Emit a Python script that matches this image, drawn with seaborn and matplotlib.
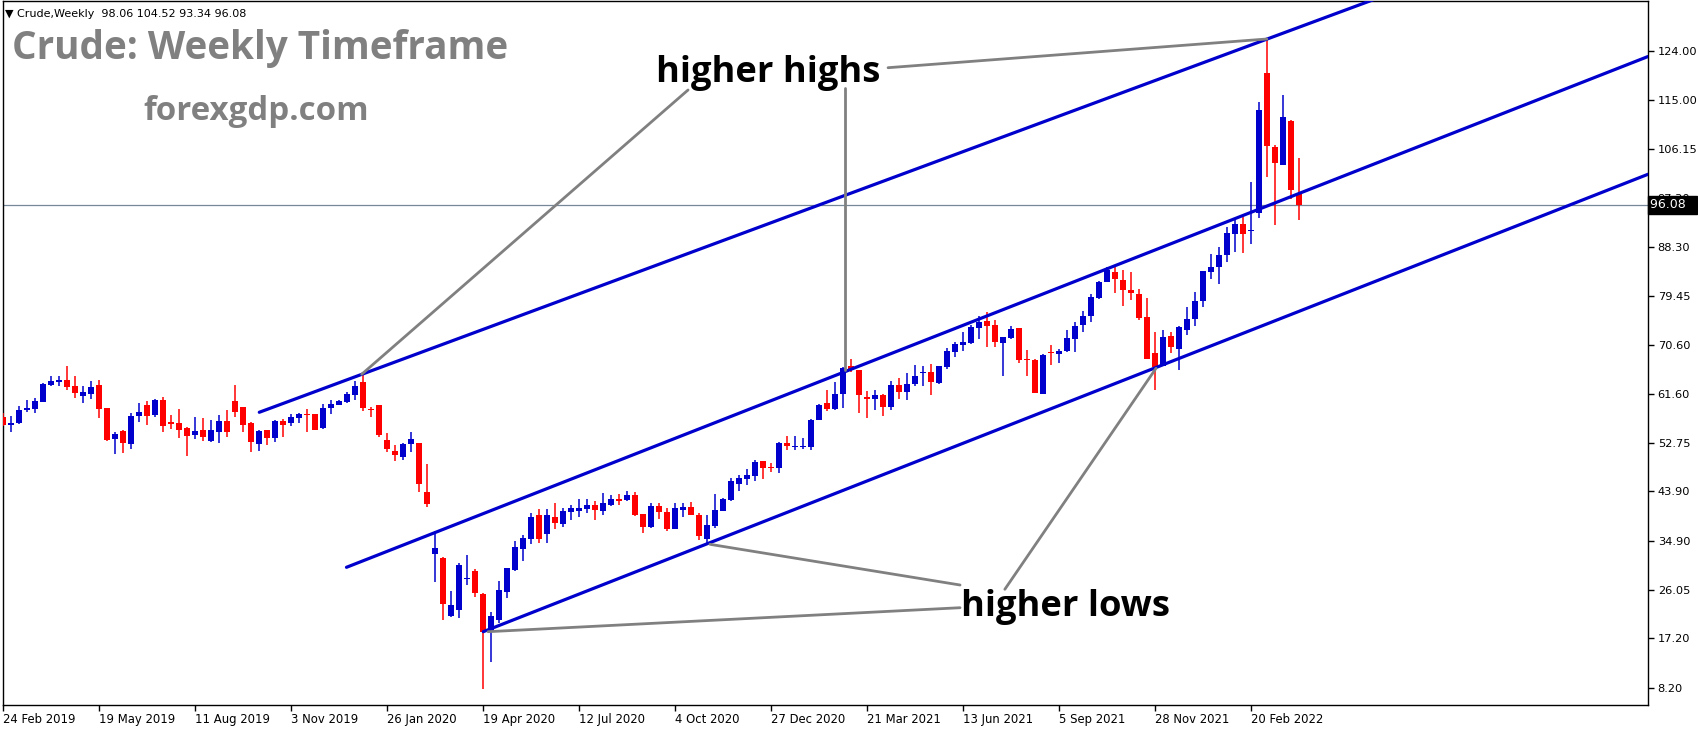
import numpy as np
import pandas as pd
import matplotlib
matplotlib.use("Agg")
import matplotlib.pyplot as plt
import matplotlib.transforms as mtransforms
import seaborn as sns

#-- weekly candles, Crude, 24 Feb 2019 .. 3 Apr 2022 (one row per week) --
opens = [57.38, 56.05, 56.41, 58.72, 58.96, 60.23, 63.26, 63.81, 64.17, 63.08,
         61.32, 61.69, 63.26, 59.08, 53.38, 54.90, 52.60, 57.63, 59.56, 57.87,
         60.53, 56.53, 56.35, 55.44, 54.23, 55.08, 53.14, 54.78, 56.72, 60.35,
         59.26, 56.35, 52.60, 55.08, 53.69, 56.72, 56.41, 57.32, 57.93, 57.99,
         55.50, 59.08, 59.69, 60.23, 61.50, 63.81, 58.90, 59.63, 53.26, 51.26,
         50.23, 52.60, 52.72, 43.81, 32.59, 31.87, 21.32, 22.41, 28.00, 29.44,
         25.26, 18.29, 20.59, 25.56, 29.62, 33.50, 35.32, 39.62, 36.23, 39.32,
         37.99, 40.23, 40.41, 40.78, 41.44, 40.41, 41.44, 42.59, 42.41, 43.26,
         39.81, 37.50, 41.26, 40.17, 37.14, 40.59, 41.08, 39.69, 35.32, 37.69,
         40.41, 42.35, 45.32, 46.23, 46.78, 49.44, 48.29, 48.23, 52.72, 51.99,
         51.99, 52.05, 56.96, 59.99, 58.90, 61.69, 66.72, 65.99, 61.02, 60.78,
         61.44, 59.32, 63.26, 62.05, 63.45, 65.45, 65.57, 63.57, 66.54, 69.33,
         70.60, 70.90, 73.69, 74.90, 74.18, 70.90, 71.87, 73.63, 67.87, 67.87,
         61.69, 69.21, 68.96, 69.45, 71.69, 74.24, 75.81, 79.08, 82.06, 83.81,
         82.36, 80.54, 79.81, 75.63, 69.10, 66.70, 72.18, 69.85, 73.27, 75.33,
         78.58, 83.88, 84.76, 86.97, 90.79, 92.55, 91.22, 94.61, 120.06, 106.55,
         103.34, 111.28, 98.06]
highs = [58.11, 57.63, 59.44, 60.53, 60.90, 63.60, 64.90, 64.90, 66.72, 64.90,
         63.08, 63.93, 64.17, 59.08, 54.72, 55.08, 58.17, 59.99, 60.35, 60.78,
         61.02, 57.81, 58.90, 55.57, 57.44, 57.26, 56.90, 57.81, 58.72, 63.32,
         59.26, 56.47, 55.08, 55.08, 56.90, 57.08, 57.93, 58.17, 58.84, 57.99,
         59.81, 60.53, 60.53, 61.99, 63.99, 65.20, 59.26, 59.63, 54.53, 52.35,
         52.78, 54.72, 52.72, 48.90, 36.78, 32.05, 25.87, 30.96, 32.41, 29.81,
         25.38, 22.05, 27.62, 29.99, 34.90, 35.99, 40.05, 40.72, 40.72, 41.81,
         40.90, 41.44, 42.53, 42.53, 42.17, 43.62, 43.26, 43.44, 43.99, 43.87,
         39.81, 41.81, 41.81, 40.90, 41.81, 41.81, 41.99, 39.99, 39.62, 43.44,
         42.72, 46.35, 46.90, 48.05, 49.62, 49.44, 49.08, 52.96, 53.99, 54.05,
         53.62, 57.08, 59.81, 62.35, 63.87, 66.60, 67.99, 65.99, 62.17, 62.35,
         61.60, 64.00, 64.48, 65.45, 66.90, 66.72, 67.08, 66.72, 69.93, 71.08,
         72.96, 74.18, 75.81, 76.54, 75.08, 72.00, 73.99, 73.63, 69.63, 67.99,
         68.90, 70.54, 69.75, 73.27, 74.72, 76.78, 79.81, 82.18, 84.66, 84.66,
         84.18, 83.81, 80.72, 79.08, 72.96, 73.27, 72.93, 74.00, 77.42, 80.20,
         84.00, 87.09, 88.37, 91.94, 93.28, 93.88, 100.24, 114.79, 126.00, 106.85,
         116.00, 111.46, 104.52]
lows = [55.81, 54.78, 56.23, 58.41, 58.23, 60.10, 63.14, 63.14, 62.41, 60.96,
        60.05, 60.78, 57.32, 53.14, 50.78, 50.96, 51.69, 56.60, 56.05, 57.38,
        54.78, 55.32, 53.69, 50.41, 53.44, 53.14, 52.96, 52.78, 53.87, 57.50,
        54.78, 51.02, 51.32, 52.41, 52.96, 53.87, 55.87, 56.35, 54.78, 55.08,
        55.32, 57.99, 59.56, 59.99, 60.53, 58.60, 57.50, 53.87, 51.08, 49.50,
        49.63, 51.08, 43.87, 41.14, 27.50, 20.53, 21.14, 20.96, 26.96, 24.78,
        7.93, 12.96, 19.93, 24.59, 29.44, 31.32, 34.41, 34.53, 34.59, 37.14,
        37.44, 38.78, 39.32, 40.05, 38.78, 39.62, 41.32, 41.50, 42.23, 39.50,
        36.41, 37.32, 38.96, 36.78, 37.10, 39.32, 39.60, 35.08, 34.47, 37.32,
        40.35, 42.23, 44.05, 45.14, 45.87, 46.23, 47.50, 47.32, 51.50, 51.50,
        51.62, 51.50, 56.90, 58.53, 58.78, 59.14, 65.69, 58.23, 57.32, 58.72,
        57.68, 58.72, 60.65, 60.60, 63.08, 63.14, 61.51, 63.45, 66.18, 68.42,
        69.51, 70.78, 71.63, 70.24, 70.24, 64.96, 71.63, 67.20, 64.96, 61.87,
        61.69, 66.96, 67.33, 69.33, 69.33, 72.96, 74.78, 78.90, 82.00, 80.05,
        77.69, 78.72, 75.08, 68.05, 62.42, 66.66, 69.15, 66.02, 72.40, 74.02,
        77.52, 82.58, 81.70, 85.70, 87.46, 87.34, 88.97, 93.70, 101.15, 92.43,
        103.34, 97.03, 93.34]
closes = [55.93, 56.41, 58.72, 59.08, 60.35, 63.44, 63.99, 64.17, 62.96, 61.87,
          61.99, 62.84, 58.96, 53.26, 54.35, 52.78, 57.63, 58.35, 57.69, 60.53,
          55.87, 56.17, 55.14, 54.05, 54.90, 53.87, 55.08, 56.72, 54.78, 58.41,
          56.05, 52.90, 54.90, 53.69, 56.72, 56.05, 57.44, 57.99, 57.81, 55.14,
          59.08, 59.81, 60.35, 61.63, 63.08, 59.08, 58.78, 54.17, 51.69, 50.60,
          52.53, 53.44, 45.32, 41.68, 33.69, 23.44, 23.26, 30.53, 28.20, 25.50,
          18.29, 21.26, 25.99, 29.99, 33.81, 35.44, 39.26, 35.26, 39.62, 38.23,
          40.35, 40.90, 40.90, 41.44, 40.59, 41.81, 42.53, 42.23, 43.26, 39.62,
          37.50, 41.26, 40.23, 37.14, 40.90, 41.08, 39.69, 35.87, 37.75, 40.53,
          42.59, 45.81, 46.35, 46.90, 49.26, 48.23, 48.17, 52.72, 52.23, 52.11,
          52.11, 56.90, 59.69, 58.90, 61.63, 66.29, 65.99, 61.44, 60.78, 61.45,
          59.32, 63.26, 62.05, 63.45, 64.90, 65.60, 63.87, 66.72, 69.45, 70.72,
          71.08, 73.75, 74.78, 74.05, 71.15, 72.00, 73.45, 67.87, 67.75, 61.87,
          68.66, 69.08, 69.45, 71.81, 74.00, 75.81, 79.27, 82.00, 84.18, 82.54,
          80.60, 79.93, 75.51, 68.05, 66.55, 71.97, 70.25, 73.82, 75.28, 78.55,
          84.00, 84.73, 86.91, 90.85, 92.55, 90.79, 91.34, 113.28, 106.79, 103.70,
          112.00, 98.73, 96.08]

date_labels = ["24 Feb 2019", "19 May 2019", "11 Aug 2019", "3 Nov 2019",
               "26 Jan 2020", "19 Apr 2020", "12 Jul 2020", "4 Oct 2020",
               "27 Dec 2020", "21 Mar 2021", "13 Jun 2021", "5 Sep 2021",
               "28 Nov 2021", "20 Feb 2022"]
price_ticks = [124.00, 115.00, 106.15, 97.30, 88.30, 79.45, 70.60,
               61.60, 52.75, 43.90, 34.90, 26.05, 17.20, 8.20]
last_price = 96.08

# channel lines: (start week, start price, second week, second price)
channels = {"upper":  (32.0, 58.30, 158.0, 126.18),
            "middle": (42.9, 30.11, 143.34, 87.45),
            "lower":  (60.0, 18.40, 174.6, 83.87)}
# grey pointer lines (week, price) -> (week, price)
pointers = [((44.8, 65.21), (85.6, 116.91)),
            ((105.2, 117.22), (105.2, 65.99)),
            ((110.6, 120.96), (157.96, 126.18)),
            ((88.34, 34.29), (119.6, 26.89)),
            ((60.6, 18.40), (119.6, 22.76)),
            ((144.1, 66.30), (125.2, 26.11))]

sns.set_style("white")
plt.rcParams.update({'font.family': ['DejaVu Sans'],
                     'axes.linewidth': 1.0})

BLUE = "#0000cd"
RED = "#ff0000"
GREY = "#808080"

df = pd.DataFrame({"open": opens, "high": highs, "low": lows, "close": closes})
df["week"] = np.arange(len(df))
df["up"] = df["close"] >= df["open"]

fig = plt.figure(figsize=(16.98, 7.30), dpi=100)
ax = fig.add_axes([2.5 / 1698, 25 / 730, (1648 - 2.5) / 1698, (729 - 25) / 730])
xmax = 205.6
ax.set_xlim(-0.1, xmax)
ax.set_ylim(5.07, 133.09)

#--candles: wick + body--
cols = np.where(df["up"], BLUE, RED)
ax.vlines(df["week"], df["low"], df["high"], colors=cols, lw=1.1, zorder=3)
body = np.maximum((df["close"] - df["open"]).abs(), 0.18)
ax.bar(df["week"], body, bottom=np.minimum(df["open"], df["close"]),
       width=0.74, color=cols, linewidth=0, zorder=4)

#--channel lines (rays to the right edge)--
rows = []
for name, (x0, y0, x1, y1) in channels.items():
    slope = (y1 - y0) / (x1 - x0)
    rows.append((name, x0, y0))
    rows.append((name, xmax, y0 + slope * (xmax - x0)))
ch = pd.DataFrame(rows, columns=["line", "x", "y"])
sns.lineplot(data=ch, x="x", y="y", units="line", estimator=None, color=BLUE,
             lw=2.3, ax=ax, zorder=5, legend=False)

prow = []
for k, (a, b) in enumerate(pointers):
    prow.append((k, a[0], a[1]))
    prow.append((k, b[0], b[1]))
pt = pd.DataFrame(prow, columns=["id", "x", "y"])
sns.lineplot(data=pt, x="x", y="y", units="id", estimator=None, sort=False,
             color=GREY, lw=2.0, ax=ax, zorder=6, legend=False)

ax.axhline(last_price, color="#778899", lw=0.9, zorder=2)

#--axes / ticks--
ax.set_xlabel("")
ax.set_ylabel("")
ax.set_xticks(np.arange(len(date_labels)) * 12)
ax.set_xticklabels(date_labels, ha="left", fontsize=8.4)
ax.tick_params(axis="x", direction="out", length=4, width=1, pad=2,
               bottom=True, colors="black")
ax.yaxis.tick_right()
ax.set_yticks(price_ticks)
ax.set_yticklabels([f"{v:.2f}" for v in price_ticks], fontsize=8.2)
ax.tick_params(axis="y", direction="out", length=4, width=1, pad=3,
               right=True, left=False, colors="black")
for s in ax.spines.values():
    s.set_visible(True)
    s.set_color("black")
    s.set_linewidth(1.0)

# last price box sits over the 97.30 label, as in the terminal
trans = mtransforms.blended_transform_factory(ax.transAxes, ax.transData)
ax.text(1.0015, last_price, f"{last_price:.2f}  ", transform=trans, ha="left",
        va="center", fontsize=9, color="white", clip_on=False, zorder=10,
        bbox=dict(boxstyle="square,pad=0.2", fc="black", ec="black"))

#--texts--
fig.text(5 / 1698, 1 - 14 / 730, "\u25bc Crude,Weekly  98.06 104.52 93.34 96.08",
         fontsize=8, va="center", ha="left", color="black")
fig.text(12 / 1698, 1 - 59 / 730, "Crude: Weekly Timeframe", family="Open Sans",
         fontweight="bold", fontsize=27.8, color=GREY, va="baseline", ha="left")
fig.text(143 / 1698, 1 - 119.5 / 730, "forexgdp.com", family="Open Sans",
         fontweight="bold", fontsize=23.8, color=GREY, va="baseline", ha="left")
fig.text(656 / 1698, 1 - 81.7 / 730, "higher highs", family="Open Sans",
         fontweight="bold", fontsize=26.2, color="black", va="baseline", ha="left")
fig.text(961 / 1698, 1 - 616 / 730, "higher lows", family="Open Sans",
         fontweight="bold", fontsize=26.2, color="black", va="baseline", ha="left")

fig.savefig("out.png", dpi=100, facecolor="white")
